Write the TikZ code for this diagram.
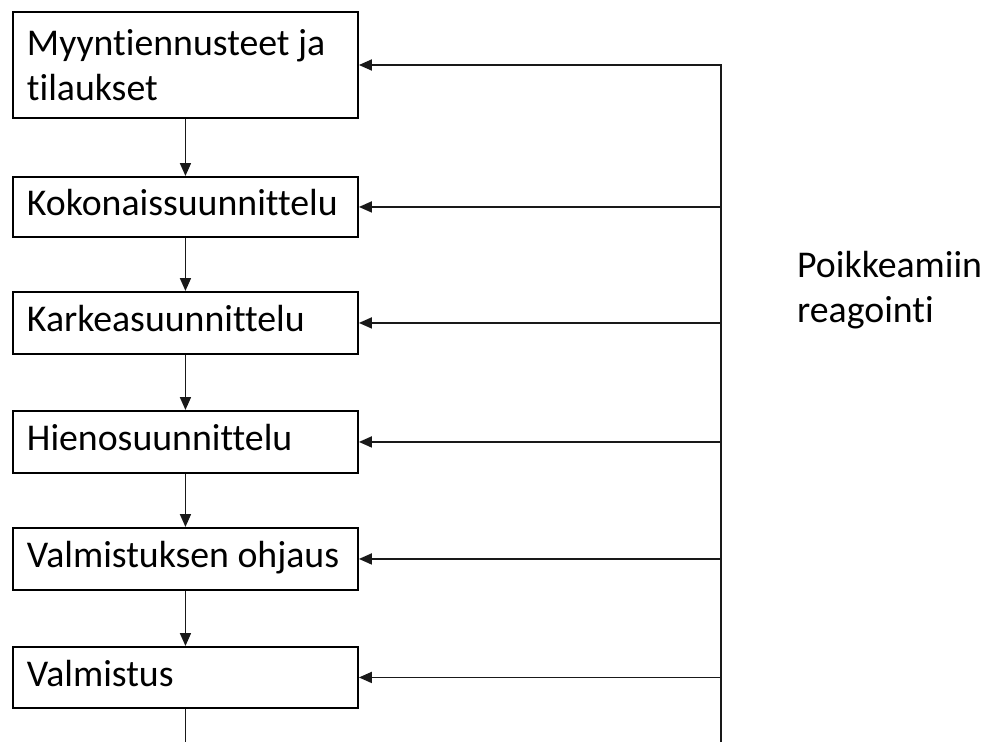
\documentclass[tikz,border=0pt]{standalone}
\usepackage{fontspec}
\setmainfont{Carlito}[Ligatures=NoCommon]
\usetikzlibrary{arrows.meta}
\begin{document}
\begin{tikzpicture}[x=1pt,y=-1pt,
  every node/.style={font=\fontsize{37.8}{45}\selectfont},
  stepbox/.style={draw, line width=1.9pt, rectangle, anchor=north west,
    minimum width=345pt, text width=317pt, inner xsep=14pt, align=flush left},
  onerow/.style={stepbox, minimum height=60pt, text height=26pt, text depth=8pt},
  conn/.style={line width=1.8pt, draw=black!90},
  tip/.style={-{Triangle[length=13pt,width=11pt]}}]
  \useasboundingbox (0,0) rectangle (985,742);

  % process chain
  \node[stepbox, minimum height=106pt] (b1) at (12,11) {Myyntiennusteet ja\\tilaukset};
  \node[onerow] (b2) at (12,176) {Kokonaissuunnittelu};
  \node[onerow, minimum height=62pt] (b3) at (12,291) {Karkeasuunnittelu};
  \node[onerow, minimum height=62pt] (b4) at (12,410) {Hienosuunnittelu};
  \node[onerow, minimum height=62pt] (b5) at (12,527) {Valmistuksen ohjaus};
  \node[onerow, minimum height=61pt] (b6) at (12,646) {Valmistus};

  \foreach \a/\b in {b1/b2, b2/b3, b3/b4, b4/b5, b5/b6}
    \draw[conn, tip] (\a.south) -- (\b.north);
  \coordinate (out) at (b6.south |- 0,742);
  \draw[conn] (b6.south) -- (out);

  % feedback spine
  \coordinate (sp) at (721,65);
  \coordinate (spb) at (721,742);
  \draw[conn, tip] (spb) -- (sp) -- (sp -| b1.east);
  \foreach \n in {b2, b3, b4, b5, b6}
    \draw[conn, tip] (\n.east -| sp) -- (\n.east);

  \node[anchor=base west, inner sep=0pt, align=flush left] (lbl) at (797,322)
    {Poikkeamiin\\reagointi};
\end{tikzpicture}
\end{document}
